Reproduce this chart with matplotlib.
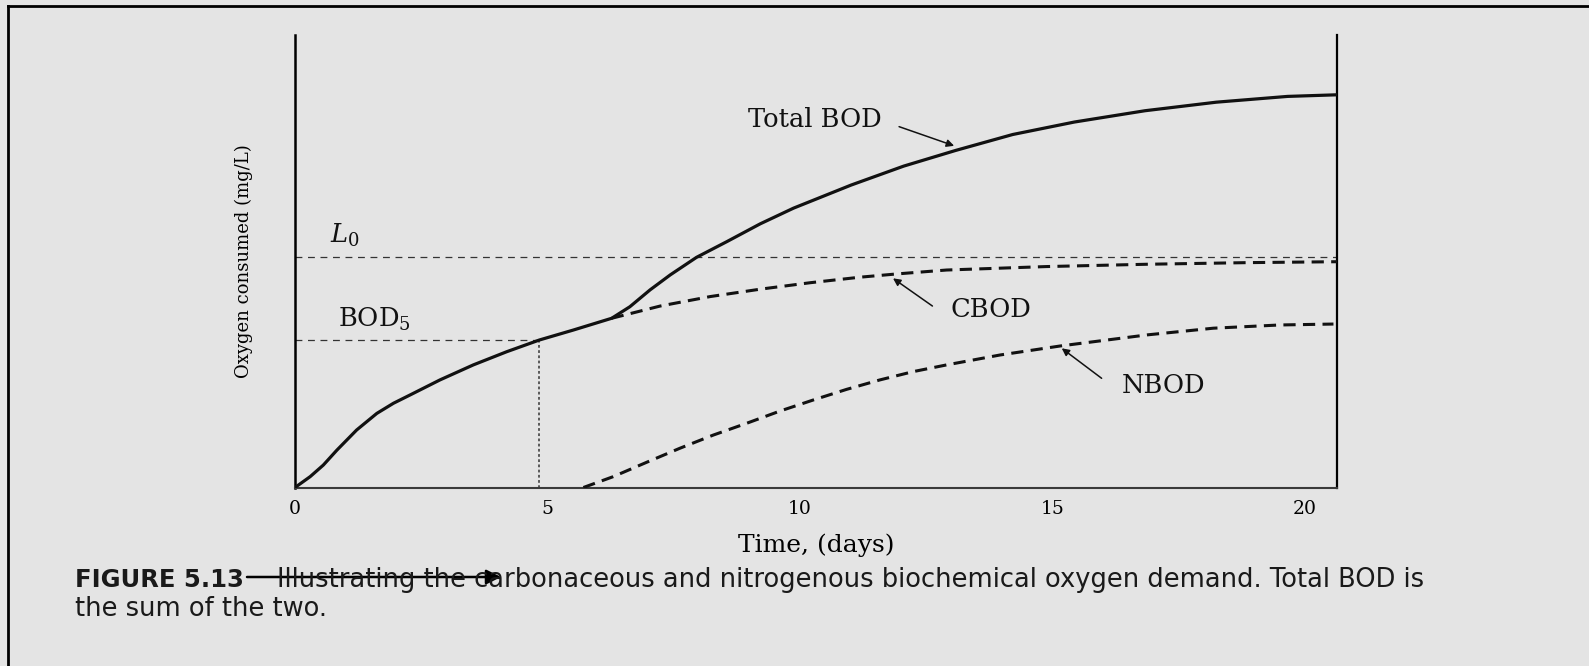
import matplotlib
matplotlib.use('Agg')  # headless
import matplotlib.pyplot as plt
from matplotlib.lines import Line2D

# --- Data (days, mg/L in arbitrary units, L0 = 10) ---
total_days = [0.0, 0.30, 0.56, 0.83, 1.22, 1.62, 1.95, 2.28, 2.87, 3.53, 4.19,
              4.84, 5.51, 6.27, 6.63, 7.03, 7.43, 7.95, 8.55, 9.21, 9.87,
              11.01, 12.05, 13.08, 14.21, 15.43, 16.83, 18.24, 19.65, 20.63]
total_vals = [0.0, 0.47, 0.97, 1.62, 2.49, 3.21, 3.65, 4.01, 4.66, 5.31, 5.88,
              6.39, 6.82, 7.33, 7.83, 8.56, 9.21, 9.97, 10.65, 11.42, 12.10,
              13.10, 13.92, 14.60, 15.29, 15.83, 16.32, 16.69, 16.94, 17.01]

cbod_days = [6.27, 7.23, 8.22, 9.21, 10.20, 11.19, 11.91, 12.90, 14.88, 16.87,
             18.85, 20.63]
cbod_vals = [7.33, 7.86, 8.27, 8.59, 8.87, 9.11, 9.25, 9.42, 9.57, 9.67,
             9.74, 9.78]

nbod_days = [5.71, 6.30, 6.96, 7.62, 8.28, 8.94, 9.60, 10.26, 10.92, 11.58,
             12.24, 12.90, 13.96, 15.15, 16.87, 18.18, 19.50, 20.56]
nbod_vals = [0.0, 0.47, 1.09, 1.70, 2.27, 2.78, 3.31, 3.79, 4.25, 4.66,
             5.02, 5.31, 5.74, 6.13, 6.61, 6.90, 7.04, 7.08]

L0 = 10.0
BOD5 = 6.39
BOD5_DAY = 4.84
x_ticks = [0, 5, 10, 15, 20]
inner_ticks = [10, 15]

# --- Layout ---
W, H = 1589, 666
BG = '#e4e4e4'
SERIF = ['DejaVu Serif']
SANS = ['DejaVu Sans']
plt.rcParams['mathtext.fontset'] = 'dejavuserif'

fig = plt.figure(figsize=(W / 100, H / 100), dpi=100)
fig.patch.set_facecolor(BG)

ax = fig.add_axes([295 / W, 1 - 487.5 / H, (1337 - 295) / W, 452.5 / H])
ax.set_facecolor(BG)
ax.set_xlim(0, 20.63)
ax.set_ylim(0, 19.6)

# curves
ax.plot(total_days, total_vals, color='#111111', lw=2.3, solid_joinstyle='round',
        solid_capstyle='round', zorder=4)
ax.plot(cbod_days, cbod_vals, color='#111111', lw=2.2, dashes=(4, 2.4), zorder=3)
ax.plot(nbod_days, nbod_vals, color='#111111', lw=2.2, dashes=(4, 2.4), zorder=3)

# reference lines
ax.plot([0, 20.63], [L0, L0], color='#333333', lw=0.9, dashes=(5.5, 4.5), zorder=2)
ax.plot([0, BOD5_DAY], [BOD5, BOD5], color='#333333', lw=0.9, dashes=(5.5, 4.5), zorder=2)
ax.plot([BOD5_DAY, BOD5_DAY], [0, BOD5], color='#333333', lw=1.1, dashes=(1.8, 1.6), zorder=2)

# labels on curves
txt = dict(family=SERIF, fontsize=18.5, color='#111111', ha='center', va='center')
ax.text(10.30, 15.92, 'Total BOD', **txt)
ax.text(13.78, 7.69, 'CBOD', **txt)
ax.text(17.19, 4.40, 'NBOD', **txt)
ax.text(0.98, 10.90, r'$L_0$', **txt)
ax.text(1.58, 7.26, r'BOD$_5$', **txt)

arrow = dict(arrowstyle='-|>', color='#111111', lw=1.1, mutation_scale=11,
             shrinkA=0, shrinkB=0)
ax.annotate('', xy=(13.05, 14.80), xytext=(11.96, 15.63), arrowprops=arrow)
ax.annotate('', xy=(11.84, 9.06), xytext=(12.62, 7.86), arrowprops=arrow)
ax.annotate('', xy=(15.18, 6.03), xytext=(15.97, 4.73), arrowprops=arrow)

# axes styling
ax.spines['top'].set_visible(False)
ax.spines['left'].set_linewidth(1.8)
ax.spines['right'].set_linewidth(1.6)
ax.spines['bottom'].set_linewidth(1.5)
ax.spines['bottom'].set_color('#3a3a3a')
ax.set_yticks([])
ax.set_xticks(x_ticks)
ax.set_xticklabels([str(t) for t in x_ticks], family=SERIF, fontsize=13.5)
ax.tick_params(axis='x', which='major', length=0, pad=9)
ax.set_xticks(inner_ticks, minor=True)
ax.tick_params(axis='x', which='minor', direction='in', length=14, width=1.0,
               color='#333333')

ax.set_xlabel('Time, (days)', family=SERIF, fontsize=18, labelpad=11)
ax.set_ylabel('Oxygen consumed (mg/L)', family=SERIF, fontsize=13, labelpad=30)

# page frame (top and left edges of the scan)
fig.add_artist(Line2D([8 / W, 1], [1 - 6 / H, 1 - 6 / H], color='black', lw=2.0,
                      transform=fig.transFigure))
fig.add_artist(Line2D([8 / W, 8 / W], [0, 1 - 6 / H], color='black', lw=2.0,
                      transform=fig.transFigure))

# caption
cap = dict(family=SANS, color='#1a1a1a', va='baseline')
fig.text(75 / W, 1 - 587 / H, 'FIGURE 5.13', fontweight='bold', fontsize=17.5, **cap)
fig.text(277 / W, 1 - 587 / H,
         'Illustrating the carbonaceous and nitrogenous biochemical oxygen '
         'demand. Total BOD is', fontsize=18.5, **cap)
fig.text(75 / W, 1 - 616 / H, 'the sum of the two.', fontsize=18.5, **cap)

ax.annotate('', xy=(501, H - 577), xytext=(247, H - 577),
            xycoords='figure pixels', textcoords='figure pixels',
            arrowprops=dict(arrowstyle='-|>', color='black', lw=1.8,
                            mutation_scale=22, shrinkA=0, shrinkB=0),
            annotation_clip=False)

fig.savefig('out.png', dpi=100, facecolor=BG)
